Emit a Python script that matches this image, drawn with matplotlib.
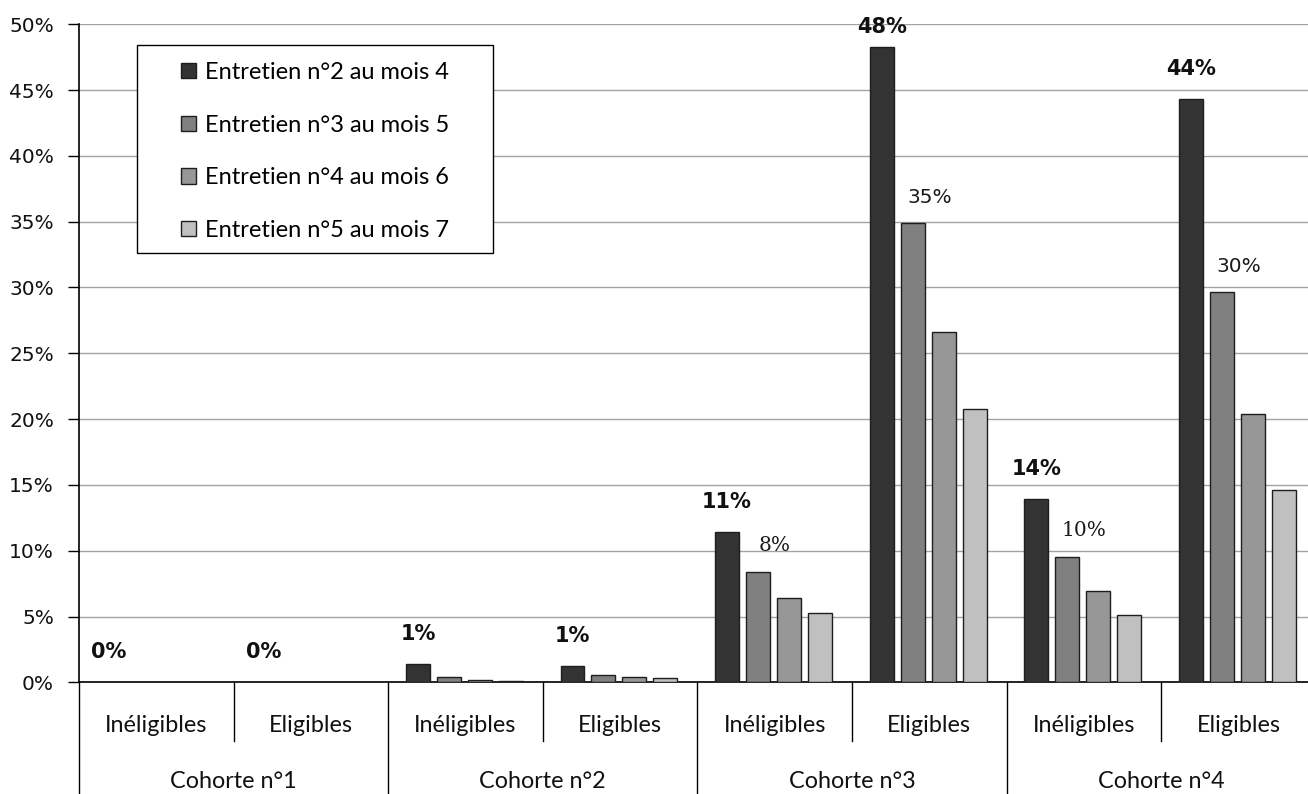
import matplotlib
matplotlib.use("Agg")
import matplotlib.pyplot as plt
import matplotlib.transforms as mtransforms
from matplotlib.lines import Line2D
from matplotlib.patches import Patch, Rectangle

# ---- data -------------------------------------------------------------
cohorts = ["Cohorte n°1", "Cohorte n°2", "Cohorte n°3", "Cohorte n°4"]
statuses = ["Inéligibles", "Eligibles"]
series_names = [
    "Entretien n°2 au mois 4",
    "Entretien n°3 au mois 5",
    "Entretien n°4 au mois 6",
    "Entretien n°5 au mois 7",
]

# values in %, one per group (cohort x status), in reading order
entretien2 = [0.0, 0.0, 1.37, 1.27, 11.4, 48.3, 13.95, 44.35]
entretien3 = [0.0, 0.0, 0.43, 0.53, 8.4, 34.9, 9.55, 29.65]
entretien4 = [0.0, 0.0, 0.20, 0.43, 6.4, 26.6, 6.90, 20.4]
entretien5 = [0.0, 0.0, 0.10, 0.30, 5.3, 20.8, 5.15, 14.6]

y_ticks = [0, 5, 10, 15, 20, 25, 30, 35, 40, 45, 50]

# groups whose second-series value is labelled, with the label font family
second_label_groups = {4: "DejaVu Serif", 5: "DejaVu Sans",
                       6: "DejaVu Serif", 7: "DejaVu Sans"}

# ---- style ------------------------------------------------------------
colors = ["#333333", "#808080", "#979797", "#c0c0c0"]
edge = "#1e1e1e"
label_font = "Lato"

W, H = 1308, 794
fig = plt.figure(figsize=(W / 100, H / 100), dpi=100)
ax_left, ax_right = 79, 1308
ax_top, ax_bottom = 24.3, 682.3
ax = fig.add_axes([ax_left / W, 1 - ax_bottom / H,
                   (ax_right - ax_left) / W, (ax_bottom - ax_top) / H])

all_series = [entretien2, entretien3, entretien4, entretien5]
n_groups = len(entretien2)
bar_w = 0.155
step = 0.2005
first_center = 0.192

for k, vals in enumerate(all_series):
    xs = [g + first_center + k * step for g in range(n_groups)]
    ax.bar(xs, vals, width=bar_w, color=colors[k], edgecolor=edge,
           linewidth=1.0, zorder=3, label=series_names[k])

ax.set_ylim(0, 50)
ax.set_xlim(0, (ax_right - ax_left) / 154.6)
ax.set_yticks(y_ticks)
ax.set_yticklabels([f"{t}%" for t in y_ticks], fontsize=14.5,
                   family="DejaVu Sans", color="#111111")
ax.tick_params(axis="y", direction="out", length=8, width=1, pad=10,
               color="black")
ax.set_xticks([])
ax.yaxis.grid(True, color="#a3a3a3", linewidth=1.0, zorder=0)
ax.set_axisbelow(True)
for s in ["top", "right"]:
    ax.spines[s].set_visible(False)
ax.spines["left"].set_color("black")
ax.spines["bottom"].set_color("black")
ax.spines["left"].set_linewidth(1.2)
ax.spines["bottom"].set_linewidth(1.2)

# ---- value labels ------------------------------------------------------
px_per_unit = (ax_bottom - ax_top) / 50.0
for g in range(n_groups):
    v = entretien2[g]
    y = min(v + 30 / px_per_unit, 50 - 2.6 / px_per_unit)
    ax.text(g + first_center, y, f"{round(v)}%", ha="center", va="center",
            fontsize=15, fontweight="bold", family="DejaVu Sans",
            color="#111111", zorder=5, clip_on=False)
for g, fam in second_label_groups.items():
    v = entretien3[g]
    ax.annotate(f"{round(v)}%", xy=(g + first_center + step, v),
                xytext=(17, 26), textcoords="offset pixels",
                ha="center", va="center", fontsize=14.5, family=fam,
                color="#1a1a1a", zorder=5)

# ---- two-level category axis -----------------------------------------
trans = mtransforms.blended_transform_factory(ax.transData, ax.transAxes)
axh = ax_bottom - ax_top
y_status = -(726 - ax_bottom) / axh
y_cohort = -(782 - ax_bottom) / axh
y_minor_end = -(741 - ax_bottom) / axh
y_major_end = -(H - ax_bottom) / axh

for g in range(n_groups):
    ax.text(g + 0.5, y_status, statuses[g % 2], transform=trans,
            ha="center", va="center", fontsize=16.8, family=label_font,
            color="#111111")
for c, name in enumerate(cohorts):
    ax.text(2 * c + 1, y_cohort, name, transform=trans, ha="center",
            va="center", fontsize=16.8, family=label_font, color="#111111")

for g in range(n_groups + 1):
    end = y_major_end if g % 2 == 0 else y_minor_end
    ax.add_line(Line2D([g, g], [0, end], transform=trans, color="black",
                       linewidth=1.0, clip_on=False))

# ---- legend ------------------------------------------------------------
handles = [Patch(facecolor=colors[k], edgecolor=edge, linewidth=1.0)
           for k in range(4)]
fig.patches.append(Rectangle((136.5 / W, 1 - 252.5 / H), 356 / W, 208 / H,
                             transform=fig.transFigure, facecolor="white",
                             edgecolor="black", linewidth=1.0, zorder=4))
leg_fs = 17
leg = fig.legend(handles, series_names, loc="upper left",
                 bbox_to_anchor=(181 / W, 1 - 62 / H),
                 bbox_transform=fig.transFigure, frameon=False,
                 borderaxespad=0, borderpad=0,
                 prop={"family": label_font, "size": leg_fs},
                 handlelength=0.62, handleheight=0.62, handletextpad=0.4,
                 labelspacing=1.34)
leg.set_zorder(6)

fig.savefig("out.png", dpi=100, facecolor="white")
